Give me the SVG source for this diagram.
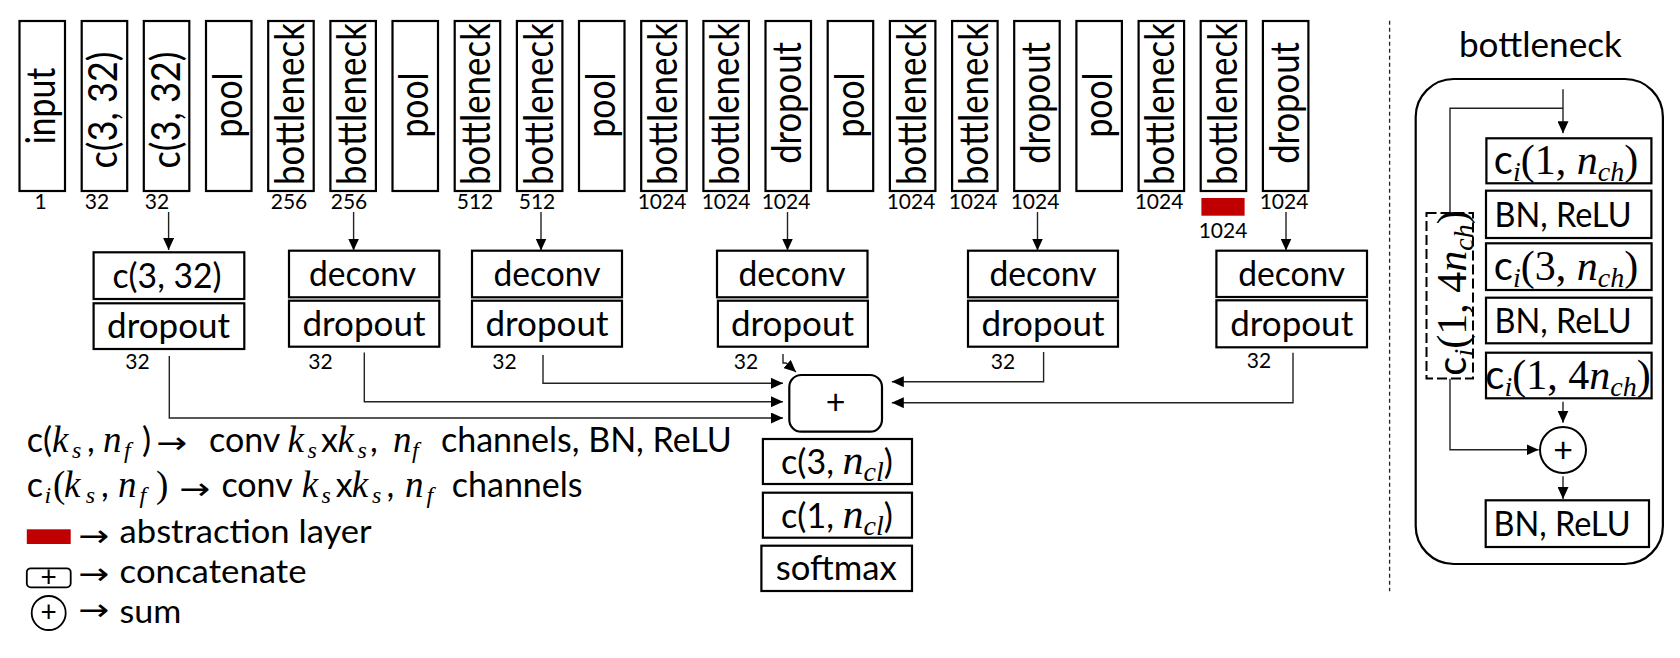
<svg xmlns="http://www.w3.org/2000/svg" width="1680" height="658" viewBox="0 0 1680 658">
<style>
.box{fill:#fff;stroke:#000;stroke-width:2.2}
.t{font-family:Lato,'Open Sans',sans-serif;font-size:34px;fill:#000}
.t32{font-family:Lato,'Open Sans',sans-serif;font-size:32px;fill:#000}
.c{text-anchor:middle}
.v{font-family:Lato,'Open Sans',sans-serif;font-size:40px;fill:#000;text-anchor:middle}
.lab{font-family:Lato,'Open Sans',sans-serif;font-size:21px;fill:#000;text-anchor:middle}
.mi{font-family:'Liberation Serif','DejaVu Serif',serif;font-style:italic;font-size:42px}
.ms{font-family:'Liberation Serif','DejaVu Serif',serif;font-style:italic;font-size:28px}
.mr{font-family:'Liberation Serif','DejaVu Serif',serif;font-style:normal;font-size:42px}
.lm{font-family:'Liberation Serif','DejaVu Serif',serif;font-style:italic;font-size:37px}
.ls{font-family:'Liberation Serif','DejaVu Serif',serif;font-style:italic;font-size:24px}
.lr{font-family:'Liberation Serif','DejaVu Serif',serif;font-style:normal;font-size:37px}
.ar{font-family:'DejaVu Sans',sans-serif;font-size:30px;fill:#000}
.plus{font-family:Lato,'Open Sans',sans-serif;font-size:28px;fill:#000;text-anchor:middle}
.con{fill:none;stroke:#222;stroke-width:1.4}
.red{fill:#c00000}
</style>
<defs>
<marker id="ah" viewBox="0 0 12 11" refX="12" refY="5.5" markerWidth="12" markerHeight="11" markerUnits="userSpaceOnUse" orient="auto"><path d="M0,0 L12,5.5 L0,11 Z" fill="#000"/></marker>
</defs>

<!-- top row -->
<g id="n0"><rect class="box" x="19.5" y="21" width="45.5" height="170"/><text class="v" transform="translate(42.3,106) rotate(-90)" y="13" textLength="76.7" lengthAdjust="spacingAndGlyphs">input</text><text class="lab" x="40.5" y="209">1</text></g>
<g id="n1"><rect class="box" x="81.7" y="21" width="45.5" height="170"/><text class="v" transform="translate(104.4,110) rotate(-90)" y="13" textLength="117" lengthAdjust="spacingAndGlyphs">c(3, 32)</text><text class="lab" x="97" y="209">32</text></g>
<g id="n2"><rect class="box" x="143.8" y="21" width="45.5" height="170"/><text class="v" transform="translate(166.6,110) rotate(-90)" y="13" textLength="117" lengthAdjust="spacingAndGlyphs">c(3, 32)</text><text class="lab" x="157" y="209">32</text></g>
<g id="n3"><rect class="box" x="206" y="21" width="45.5" height="170"/><text class="v" transform="translate(228.8,105) rotate(-90)" y="13" textLength="65" lengthAdjust="spacingAndGlyphs">pool</text></g>
<g id="n4"><rect class="box" x="268.2" y="21" width="45.5" height="170"/><text class="v" transform="translate(290.9,104) rotate(-90)" y="13" textLength="162" lengthAdjust="spacingAndGlyphs">bottleneck</text><text class="lab" x="289" y="209">256</text></g>
<g id="n5"><rect class="box" x="330.4" y="21" width="45.5" height="170"/><text class="v" transform="translate(353.1,104) rotate(-90)" y="13" textLength="162" lengthAdjust="spacingAndGlyphs">bottleneck</text><text class="lab" x="349" y="209">256</text></g>
<g id="n6"><rect class="box" x="392.5" y="21" width="45.5" height="170"/><text class="v" transform="translate(415.3,105) rotate(-90)" y="13" textLength="65" lengthAdjust="spacingAndGlyphs">pool</text></g>
<g id="n7"><rect class="box" x="454.7" y="21" width="45.5" height="170"/><text class="v" transform="translate(477.4,104) rotate(-90)" y="13" textLength="162" lengthAdjust="spacingAndGlyphs">bottleneck</text><text class="lab" x="475" y="209">512</text></g>
<g id="n8"><rect class="box" x="516.9" y="21" width="45.5" height="170"/><text class="v" transform="translate(539.6,104) rotate(-90)" y="13" textLength="162" lengthAdjust="spacingAndGlyphs">bottleneck</text><text class="lab" x="537" y="209">512</text></g>
<g id="n9"><rect class="box" x="579" y="21" width="45.5" height="170"/><text class="v" transform="translate(601.8,105) rotate(-90)" y="13" textLength="65" lengthAdjust="spacingAndGlyphs">pool</text></g>
<g id="n10"><rect class="box" x="641.2" y="21" width="45.5" height="170"/><text class="v" transform="translate(664,104) rotate(-90)" y="13" textLength="162" lengthAdjust="spacingAndGlyphs">bottleneck</text><text class="lab" x="662" y="209">1024</text></g>
<g id="n11"><rect class="box" x="703.4" y="21" width="45.5" height="170"/><text class="v" transform="translate(726.1,104) rotate(-90)" y="13" textLength="162" lengthAdjust="spacingAndGlyphs">bottleneck</text><text class="lab" x="726" y="209">1024</text></g>
<g id="n12"><rect class="box" x="765.5" y="21" width="45.5" height="170"/><text class="v" transform="translate(788.3,103) rotate(-90)" y="13" textLength="121.7" lengthAdjust="spacingAndGlyphs">dropout</text><text class="lab" x="786" y="209">1024</text></g>
<g id="n13"><rect class="box" x="827.7" y="21" width="45.5" height="170"/><text class="v" transform="translate(850.5,105) rotate(-90)" y="13" textLength="65" lengthAdjust="spacingAndGlyphs">pool</text></g>
<g id="n14"><rect class="box" x="889.9" y="21" width="45.5" height="170"/><text class="v" transform="translate(912.6,104) rotate(-90)" y="13" textLength="162" lengthAdjust="spacingAndGlyphs">bottleneck</text><text class="lab" x="911" y="209">1024</text></g>
<g id="n15"><rect class="box" x="952.1" y="21" width="45.5" height="170"/><text class="v" transform="translate(974.8,104) rotate(-90)" y="13" textLength="162" lengthAdjust="spacingAndGlyphs">bottleneck</text><text class="lab" x="973" y="209">1024</text></g>
<g id="n16"><rect class="box" x="1014.2" y="21" width="45.5" height="170"/><text class="v" transform="translate(1037,103) rotate(-90)" y="13" textLength="121.7" lengthAdjust="spacingAndGlyphs">dropout</text><text class="lab" x="1035" y="209">1024</text></g>
<g id="n17"><rect class="box" x="1076.4" y="21" width="45.5" height="170"/><text class="v" transform="translate(1099.1,105) rotate(-90)" y="13" textLength="65" lengthAdjust="spacingAndGlyphs">pool</text></g>
<g id="n18"><rect class="box" x="1138.6" y="21" width="45.5" height="170"/><text class="v" transform="translate(1161.3,104) rotate(-90)" y="13" textLength="162" lengthAdjust="spacingAndGlyphs">bottleneck</text><text class="lab" x="1159" y="209">1024</text></g>
<g id="n19"><rect class="box" x="1200.7" y="21" width="45.5" height="170"/><text class="v" transform="translate(1223.5,104) rotate(-90)" y="13" textLength="162" lengthAdjust="spacingAndGlyphs">bottleneck</text><rect class="red" x="1201.4" y="198" width="43.2" height="17.7"/><text class="lab" x="1223" y="238">1024</text></g>
<g id="n20"><rect class="box" x="1262.9" y="21" width="45.5" height="170"/><text class="v" transform="translate(1285.7,103) rotate(-90)" y="13" textLength="121.7" lengthAdjust="spacingAndGlyphs">dropout</text><text class="lab" x="1284" y="209">1024</text></g>

<!-- decoder groups -->
<g id="g1"><rect class="box" x="93.6" y="252.3" width="150.7" height="46.7"/><text class="t c" x="167" y="288" textLength="109" lengthAdjust="spacingAndGlyphs">c(3, 32)</text><rect class="box" x="93.6" y="303.3" width="150.7" height="45.7"/><text class="t c" x="168.6" y="338" textLength="123" lengthAdjust="spacingAndGlyphs">dropout</text><text class="lab" x="137.5" y="369">32</text></g>
<g id="g2"><rect class="box" x="289" y="250.7" width="150.3" height="46.6"/><text class="t c" x="362.5" y="286" textLength="107" lengthAdjust="spacingAndGlyphs">deconv</text><rect class="box" x="289" y="300.7" width="150.3" height="46"/><text class="t c" x="364" y="336" textLength="123" lengthAdjust="spacingAndGlyphs">dropout</text><text class="lab" x="320.5" y="369">32</text></g>
<g id="g3"><rect class="box" x="472" y="250.7" width="150" height="46.6"/><text class="t c" x="547" y="286" textLength="107" lengthAdjust="spacingAndGlyphs">deconv</text><rect class="box" x="472" y="300.7" width="150" height="46"/><text class="t c" x="547" y="336" textLength="123" lengthAdjust="spacingAndGlyphs">dropout</text><text class="lab" x="504.5" y="369">32</text></g>
<g id="g4"><rect class="box" x="717" y="250.7" width="150.5" height="46.6"/><text class="t c" x="792" y="286" textLength="107" lengthAdjust="spacingAndGlyphs">deconv</text><rect class="box" x="717.9" y="300.7" width="150" height="46"/><text class="t c" x="792.5" y="336" textLength="123" lengthAdjust="spacingAndGlyphs">dropout</text><text class="lab" x="746" y="369">32</text></g>
<g id="g5"><rect class="box" x="968" y="250.7" width="150" height="46.6"/><text class="t c" x="1043" y="286" textLength="107" lengthAdjust="spacingAndGlyphs">deconv</text><rect class="box" x="968" y="300.7" width="150" height="46"/><text class="t c" x="1043" y="336" textLength="123" lengthAdjust="spacingAndGlyphs">dropout</text><text class="lab" x="1003" y="369">32</text></g>
<g id="g6"><rect class="box" x="1216.4" y="250.7" width="150.6" height="46.3"/><text class="t c" x="1291.7" y="286" textLength="107" lengthAdjust="spacingAndGlyphs">deconv</text><rect class="box" x="1216.4" y="300.3" width="150.6" height="47"/><text class="t c" x="1291.7" y="336" textLength="123" lengthAdjust="spacingAndGlyphs">dropout</text><text class="lab" x="1259" y="368">32</text></g>

<!-- concat and head -->
<g id="concat"><rect class="box" x="789.3" y="375" width="92.7" height="56.7" rx="12"/><text class="t c" x="835.6" y="414">+</text></g>
<g id="head1"><rect class="box" x="762.9" y="439" width="149.1" height="45"/><text class="t c" x="837" y="474"><tspan>c(3, </tspan><tspan class="mi">n</tspan><tspan class="ms" dy="7">cl</tspan><tspan dy="-7">)</tspan></text></g>
<g id="head2"><rect class="box" x="762.9" y="492.7" width="149.1" height="45"/><text class="t c" x="837" y="527.5"><tspan>c(1, </tspan><tspan class="mi">n</tspan><tspan class="ms" dy="7">cl</tspan><tspan dy="-7">)</tspan></text></g>
<g id="head3"><rect class="box" x="761.4" y="545.7" width="150.6" height="45.3"/><text class="t c" x="836.3" y="580" textLength="121" lengthAdjust="spacingAndGlyphs">softmax</text></g>

<!-- connectors -->
<g id="connectors">
<path class="con" d="M168.6,212 V250" marker-end="url(#ah)"/>
<path class="con" d="M353.6,212 V250.5" marker-end="url(#ah)"/>
<path class="con" d="M541,212 V250.5" marker-end="url(#ah)"/>
<path class="con" d="M787.5,212 V250.5" marker-end="url(#ah)"/>
<path class="con" d="M1037.5,212 V250.5" marker-end="url(#ah)"/>
<path class="con" d="M1286,212 V250.5" marker-end="url(#ah)"/>
<path class="con" d="M169.3,356 V418 H783" marker-end="url(#ah)"/>
<path class="con" d="M364.3,352.5 V401.7 H783" marker-end="url(#ah)"/>
<path class="con" d="M543,355 V383.3 H783" marker-end="url(#ah)"/>
<path class="con" d="M783,354 V363 H786 L796,372" marker-end="url(#ah)"/>
<path class="con" d="M1043.6,352 V381.7 H891.8" marker-end="url(#ah)"/>
<path class="con" d="M1293,352.7 V402.7 H891.8" marker-end="url(#ah)"/>
<path class="con" d="M1563,89.3 V133.3" marker-end="url(#ah)"/>
<path class="con" d="M1563,108.3 H1450 V213"/>
<path class="con" d="M1450,378.5 V449.7 H1538.6" marker-end="url(#ah)"/>
<path class="con" d="M1563,401.7 V422.7" marker-end="url(#ah)"/>
<path class="con" d="M1563,476.3 V499" marker-end="url(#ah)"/>
</g>

<!-- separator -->
<line x1="1389.6" y1="20.7" x2="1389.6" y2="591.3" stroke="#222" stroke-width="1.3" stroke-dasharray="4,3"/>

<!-- bottleneck detail -->
<g id="bottleneck-panel">
<text class="t c" x="1540.4" y="56.7" textLength="163" lengthAdjust="spacingAndGlyphs">bottleneck</text>
<rect x="1415.7" y="79" width="247.2" height="485" rx="38" fill="none" stroke="#000" stroke-width="2.2"/>
</g>
<g id="b1"><rect class="box" x="1486.4" y="138.3" width="165" height="45"/><text class="t c" x="1566" y="174"><tspan style="font-size:40px">c</tspan><tspan class="ms" dy="7">i</tspan><tspan class="mr" dy="-7">(1, </tspan><tspan class="mi">n</tspan><tspan class="ms" dy="7">ch</tspan><tspan class="mr" dy="-7">)</tspan></text></g>
<g id="b2"><rect class="box" x="1486" y="190.7" width="165.4" height="47.3"/><text class="t c" x="1563" y="226.5" textLength="137" lengthAdjust="spacingAndGlyphs">BN, ReLU</text></g>
<g id="b3"><rect class="box" x="1486" y="243.3" width="165.6" height="46.7"/><text class="t c" x="1566" y="279.5"><tspan style="font-size:40px">c</tspan><tspan class="ms" dy="7">i</tspan><tspan class="mr" dy="-7">(3, </tspan><tspan class="mi">n</tspan><tspan class="ms" dy="7">ch</tspan><tspan class="mr" dy="-7">)</tspan></text></g>
<g id="b4"><rect class="box" x="1486" y="297.7" width="165.6" height="45.6"/><text class="t c" x="1563" y="332.5" textLength="137" lengthAdjust="spacingAndGlyphs">BN, ReLU</text></g>
<g id="b5"><rect class="box" x="1486" y="352.7" width="165.6" height="45.6"/><text class="t c" x="1568" y="388.5"><tspan style="font-size:40px">c</tspan><tspan class="ms" dy="7">i</tspan><tspan class="mr" dy="-7">(1, 4</tspan><tspan class="mi">n</tspan><tspan class="ms" dy="7">ch</tspan><tspan class="mr" dy="-7">)</tspan></text></g>
<g id="shortcut"><rect x="1426.5" y="213" width="46.5" height="165.5" fill="#fff" stroke="#000" stroke-width="2" stroke-dasharray="10,4"/><text class="t c" transform="translate(1453,293) rotate(-90)" y="13"><tspan style="font-size:40px">c</tspan><tspan class="ms" dy="7">i</tspan><tspan class="mr" dy="-7">(1, 4</tspan><tspan class="mi">n</tspan><tspan class="ms" dy="7">ch</tspan><tspan class="mr" dy="-7">)</tspan></text></g>
<g id="sum"><circle cx="1563" cy="450" r="23" fill="#fff" stroke="#000" stroke-width="2"/><text class="t c" x="1563" y="461.5">+</text></g>
<g id="b6"><rect class="box" x="1485.7" y="500.3" width="163.3" height="46.7"/><text class="t c" x="1562" y="535.5" textLength="137" lengthAdjust="spacingAndGlyphs">BN, ReLU</text></g>

<!-- legend -->
<g id="legend">
<text class="t" x="26.8" y="452"><tspan x="26.8">c(</tspan><tspan class="lm" x="52">k</tspan><tspan class="ls" x="72" dy="6">s</tspan><tspan x="87" dy="-6">,</tspan><tspan class="lm" x="103">n</tspan><tspan class="ls" x="124" dy="6">f</tspan><tspan x="142" dy="-6">)</tspan></text>
<text class="ar" x="156" y="453" textLength="31" lengthAdjust="spacingAndGlyphs">→</text>
<text class="t" x="209" y="452"><tspan x="209">conv</tspan><tspan class="lm" x="287.5">k</tspan><tspan class="ls" x="307.5" dy="6">s</tspan><tspan x="321" dy="-6">x</tspan><tspan class="lm" x="337.5">k</tspan><tspan class="ls" x="357.5" dy="6">s</tspan><tspan x="370" dy="-6">,</tspan><tspan class="lm" x="393">n</tspan><tspan class="ls" x="412" dy="6">f</tspan><tspan x="441" dy="-6">channels, BN, ReLU</tspan></text>

<text class="t" x="26.8" y="497"><tspan x="26.8">c</tspan><tspan class="ls" x="44.6" dy="6">i</tspan><tspan class="lr" x="53" dy="-6">(</tspan><tspan class="lm" x="64">k</tspan><tspan class="ls" x="85.7" dy="6">s</tspan><tspan x="101" dy="-6">,</tspan><tspan class="lm" x="118">n</tspan><tspan class="ls" x="139.5" dy="6">f</tspan><tspan class="lr" x="156" dy="-6">)</tspan></text>
<text class="ar" x="179" y="499" textLength="31" lengthAdjust="spacingAndGlyphs">→</text>
<text class="t" x="221.4" y="497"><tspan x="221.4">conv</tspan><tspan class="lm" x="301.8">k</tspan><tspan class="ls" x="321.5" dy="6">s</tspan><tspan x="335.7" dy="-6">x</tspan><tspan class="lm" x="351.8">k</tspan><tspan class="ls" x="372" dy="6">s</tspan><tspan x="386.5" dy="-6">,</tspan><tspan class="lm" x="405">n</tspan><tspan class="ls" x="426.5" dy="6">f</tspan><tspan x="451.8" dy="-6">channels</tspan></text>

<rect class="red" x="26.8" y="529.3" width="43.9" height="14.7"/>
<text class="ar" x="78" y="545.5" textLength="31" lengthAdjust="spacingAndGlyphs">→</text>
<text class="t32" x="119.6" y="542.5" textLength="252" lengthAdjust="spacingAndGlyphs">abstraction layer</text>

<rect x="26.8" y="568.3" width="43.9" height="19" rx="4" fill="#fff" stroke="#000" stroke-width="1.8"/>
<text class="plus" x="48.7" y="587.3">+</text>
<text class="ar" x="78" y="583.5" textLength="31" lengthAdjust="spacingAndGlyphs">→</text>
<text class="t32" x="119.6" y="583.3" textLength="187" lengthAdjust="spacingAndGlyphs">concatenate</text>

<circle cx="48.7" cy="613" r="17" fill="#fff" stroke="#000" stroke-width="1.8"/>
<text class="plus" x="48.7" y="622.3">+</text>
<text class="ar" x="78" y="620" textLength="31" lengthAdjust="spacingAndGlyphs">→</text>
<text class="t32" x="119.6" y="622.5" textLength="61.8" lengthAdjust="spacingAndGlyphs">sum</text>
</g>
</svg>
